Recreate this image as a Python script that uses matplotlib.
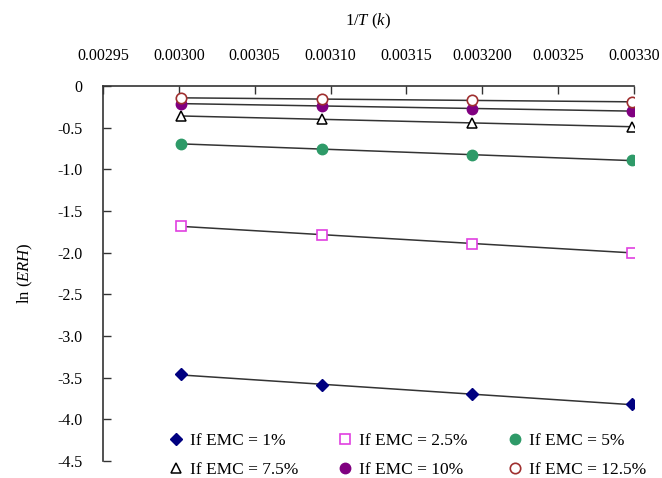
import numpy as np
import matplotlib
matplotlib.use('Agg')
import matplotlib.pyplot as plt

plt.rcParams['font.family'] = 'Liberation Serif'
plt.rcParams['mathtext.fontset'] = 'custom'
plt.rcParams['mathtext.rm'] = 'Liberation Serif'
plt.rcParams['mathtext.it'] = 'Liberation Serif:italic'

# 1/T for 60, 50, 40, 30 C
inv_T = [0.0030017, 0.0030945, 0.0031934, 0.0032987]

emc_1 = [-3.46, -3.59, -3.70, -3.82]
emc_2_5 = [-1.68, -1.79, -1.89, -2.00]
emc_5 = [-0.69, -0.76, -0.83, -0.89]
emc_7_5 = [-0.36, -0.40, -0.44, -0.49]
emc_10 = [-0.21, -0.24, -0.27, -0.30]
emc_12_5 = [-0.14, -0.16, -0.17, -0.19]

x_ticks = [0.00295, 0.00300, 0.00305, 0.00310, 0.00315, 0.00320, 0.00325, 0.00330]
x_labels = ['0.00295', '0.00300', '0.00305', '0.00310', '0.00315', '0.003200', '0.00325', '0.00330']
y_ticks = [0, -0.5, -1.0, -1.5, -2.0, -2.5, -3.0, -3.5, -4.0, -4.5]
y_labels = ['0', '-0.5', '-1.0', '-1.5', '-2.0', '-2.5', '-3.0', '-3.5', '-4.0', '-4.5']

fig = plt.figure(figsize=(6.62, 4.78), dpi=100)
ax = fig.add_axes([0.1556, 0.0356, 0.802, 0.7844])

series = [
    (emc_1, 'If EMC = 1%', dict(marker='D', color='#000080', mfc='#000080', mec='#000080', ms=6)),
    (emc_2_5, 'If EMC = 2.5%', dict(marker='s', color='#e040e0', mfc='white', mec='#e040e0', ms=7, mew=1.2)),
    (emc_5, 'If EMC = 5%', dict(marker='o', color='#2e9a68', mfc='#2e9a68', mec='#2e9a68', ms=7.5)),
    (emc_7_5, 'If EMC = 7.5%', dict(marker='^', color='black', mfc='white', mec='black', ms=7.5, mew=1.1)),
    (emc_10, 'If EMC = 10%', dict(marker='o', color='#800080', mfc='#800080', mec='#800080', ms=7.5)),
    (emc_12_5, 'If EMC = 12.5%', dict(marker='o', color='#a03030', mfc='white', mec='#a03030', ms=7.5, mew=1.2)),
]

handles = []
x = np.array(inv_T)
for y, lab, st in series:
    # linear trend line
    k, b = np.polyfit(x, y, 1)
    ax.plot(x, k * x + b, color='#333333', lw=1.1, zorder=1)
    h, = ax.plot(x, y, linestyle='none', label=lab, zorder=3, **st)
    handles.append(h)

ax.set_xlim(0.00295, 0.00330)
ax.set_ylim(-4.5, 0)
ax.xaxis.tick_top()
ax.xaxis.set_label_position('top')
ax.set_xticks(x_ticks)
ax.set_xticklabels(x_labels)
ax.set_yticks(y_ticks)
ax.set_yticklabels(y_labels)
ax.tick_params(axis='both', direction='in', length=6, width=1, labelsize=11.5, color='#333333')
ax.tick_params(axis='x', pad=16)
ax.tick_params(axis='y', pad=15)
ax.spines['right'].set_visible(False)
ax.spines['bottom'].set_visible(False)
for s in ['top', 'left']:
    ax.spines[s].set_linewidth(1.2)
    ax.spines[s].set_color('#333333')

ax.set_xlabel(r'1/$T$ ($k$)', fontsize=12, labelpad=16)
ax.set_ylabel(r'ln ($ERH$)', fontsize=12, labelpad=16)

order = [0, 3, 1, 4, 2, 5]
fig.legend([handles[i] for i in order], [handles[i].get_label() for i in order],
           ncol=3, loc='upper left', bbox_to_anchor=(0.24, 0.112),
           frameon=False, fontsize=12.5, handletextpad=0.3, columnspacing=2.2,
           labelspacing=0.75, handlelength=1.0, borderpad=0)

fig.savefig('out.png', dpi=100)
